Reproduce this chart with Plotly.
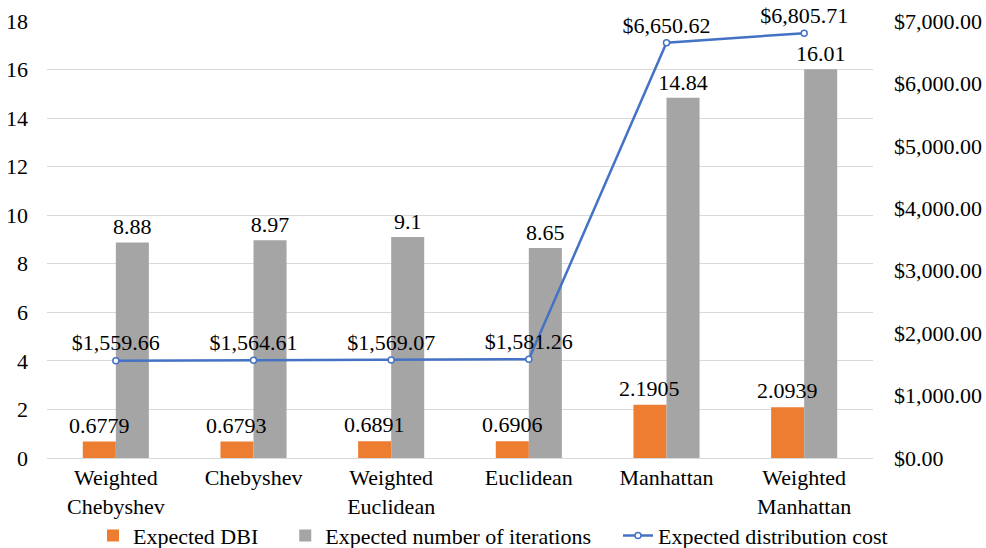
import plotly.graph_objects as go

# Distance measures compared
categories = ["Weighted<br>Chebyshev", "Chebyshev", "Weighted<br>Euclidean",
              "Euclidean", "Manhattan", "Weighted<br>Manhattan"]

# Series values
expected_dbi = [0.6779, 0.6793, 0.6891, 0.6906, 2.1905, 2.0939]
expected_iterations = [8.88, 8.97, 9.1, 8.65, 14.84, 16.01]
expected_cost = [1559.66, 1564.61, 1569.07, 1581.26, 6650.62, 6805.71]

# Axis ticks
left_ticks = [0, 2, 4, 6, 8, 10, 12, 14, 16, 18]
right_ticks = [0, 1000, 2000, 3000, 4000, 5000, 6000, 7000]
right_tick_labels = ["${:,.2f}".format(v) for v in right_ticks]

FONT = "Liberation Serif"
FS = 22
W, H = 986, 548
MARGIN = dict(l=47, r=113, t=21, b=90)
BARGAP = 0.52
PAD = "\u00a0" * 4  # extra room after a legend entry

fig = go.Figure()

fig.add_trace(go.Bar(
    x=categories, y=expected_dbi, name="Expected DBI" + PAD,
    marker=dict(color="#ED7D31", line=dict(width=0)),
    cliponaxis=False,
))
fig.add_trace(go.Bar(
    x=categories, y=expected_iterations, name="Expected number of iterations" + PAD,
    marker=dict(color="#A5A5A5", line=dict(width=0)),
    text=[str(v) for v in expected_iterations], textposition="outside",
    constraintext="none",
    textfont=dict(family=FONT, size=FS, color="#000000"),
    cliponaxis=False,
))
fig.add_trace(go.Scatter(
    x=categories, y=expected_cost, name="Expected distribution cost",
    yaxis="y2", mode="lines+markers+text",
    line=dict(color="#4472C4", width=2.5),
    marker=dict(symbol="circle", size=6, color="#FFFFFF",
                line=dict(color="#4472C4", width=1.5)),
    text=["${:,.2f}".format(v) for v in expected_cost],
    textposition="top center",
    textfont=dict(family=FONT, size=FS, color="#000000"),
    cliponaxis=False,
))

# DBI value labels sit above the orange bars and over the neighbouring grey bar,
# so they are drawn as annotations (always on top of the traces).
plot_w = W - MARGIN["l"] - MARGIN["r"]
bar_w = plot_w / len(categories) * (1 - BARGAP) / 2
for cat, v in zip(categories, expected_dbi):
    fig.add_annotation(
        x=cat, y=v, xref="x", yref="y", text=str(v), showarrow=False,
        xanchor="center", yanchor="bottom", xshift=-bar_w / 2, yshift=2,
        font=dict(family=FONT, size=FS, color="#000000"),
    )

fig.update_layout(
    template="none",
    width=W, height=H,
    margin=dict(**MARGIN, autoexpand=False),
    paper_bgcolor="#FFFFFF", plot_bgcolor="#FFFFFF",
    font=dict(family=FONT, size=FS, color="#000000"),
    barmode="group", bargap=BARGAP, bargroupgap=0,
    showlegend=True,
    legend=dict(orientation="h", xref="container", x=0.5, xanchor="center",
                yref="paper", y=-0.178, yanchor="middle",
                font=dict(family=FONT, size=FS),
                itemwidth=30, traceorder="normal", bgcolor="rgba(0,0,0,0)"),
    xaxis=dict(showgrid=False, showline=False, ticks="", automargin=False,
               ticklabelstandoff=4,
               tickfont=dict(family=FONT, size=FS)),
    yaxis=dict(range=[0, 18], tickvals=left_ticks, showgrid=True,
               gridcolor="#D9D9D9", gridwidth=1, zeroline=True,
               zerolinecolor="#D9D9D9", zerolinewidth=1, showline=False,
               ticks="", ticklabelstandoff=18, automargin=False,
               tickfont=dict(family=FONT, size=FS)),
    yaxis2=dict(range=[0, 7000], tickvals=right_ticks, ticktext=right_tick_labels,
                overlaying="y", side="right", showgrid=False, zeroline=False,
                showline=False, ticks="", ticklabelstandoff=20, automargin=False,
                tickfont=dict(family=FONT, size=FS)),
)

fig.write_html("out.html")
